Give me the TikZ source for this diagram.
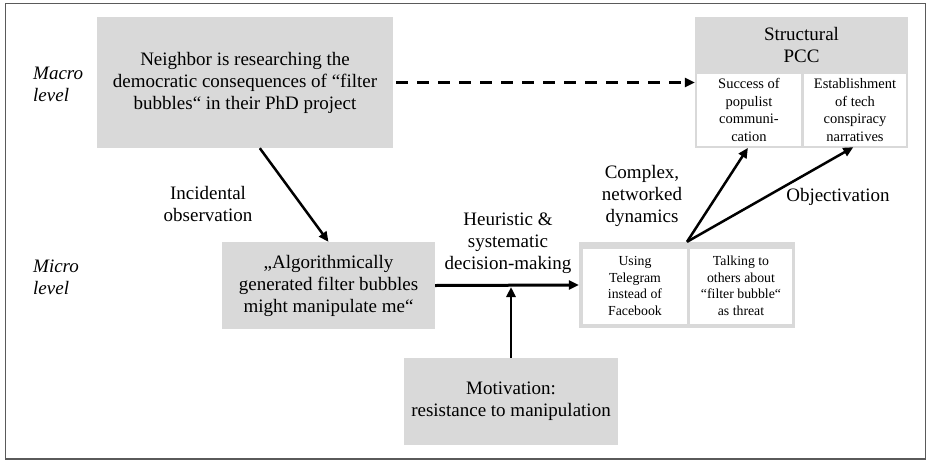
\documentclass[tikz,border=0pt]{standalone}
\usepackage{fontspec}
\setmainfont{Liberation Serif}
\usetikzlibrary{arrows.meta,calc}
\definecolor{boxgray}{HTML}{D9D9D9}
\definecolor{framegray}{HTML}{5A5A5A}

\begin{document}
\begin{tikzpicture}[x=1pt,y=-1pt,
  bigtext/.style={font=\fontsize{19}{22}\selectfont, align=center},
  graybox/.style={fill=boxgray, draw=none, inner sep=0pt, bigtext},
  whitebox/.style={fill=white, draw=none, inner sep=0pt, align=center},
  smallD/.style={whitebox, font=\fontsize{14.5}{17.5}\selectfont},
  smallE/.style={whitebox, font=\fontsize{13.8}{16.5}\selectfont},
  label/.style={bigtext, inner sep=0pt},
  levellabel/.style={font=\fontsize{19}{22}\selectfont\itshape, align=left, inner sep=0pt, anchor=west},
  arr/.style={line width=2.5pt, -{Triangle[length=10pt,width=9pt]}},
  dasharr/.style={line width=3pt, dash pattern=on 12pt off 9pt, -{Triangle[length=10pt,width=9pt]}}
]
\useasboundingbox (0,0) rectangle (932,461);

% outer frame
\draw[framegray, line width=1.5pt] (5.5,3.5) rectangle (925.5,459);

% level labels
\node[levellabel] (macro) at (33,84) {Macro\\level};
\node[levellabel] (micro) at (33,277) {Micro\\level};

% macro-level situation
\node[graybox, minimum width=296pt, minimum height=131pt] (A) at (245,82.5)
  {Neighbor is researching the\\democratic consequences of “filter\\bubbles“ in their PhD project};

% individual perception
\node[graybox, minimum width=213pt, minimum height=87pt] (B) at (328.5,285.5)
  {„Algorithmically\\generated filter bubbles\\might manipulate me“};

% motivation
\node[graybox, minimum width=214pt, minimum height=87pt] (C) at (511,401.5)
  {Motivation:\\resistance to manipulation};

% structural PCC
\node[graybox, minimum width=213pt, minimum height=131pt] (D) at (801.5,82.5) {};
\node[label] (Dh) at (801.5,44.5) {Structural\\PCC};
\node[smallD, minimum width=104pt, minimum height=72pt] (Dl) at (749,110)
  {Success of\\populist\\communi-\\cation};
\node[smallD, minimum width=102pt, minimum height=72pt] (Dr) at (855,110)
  {Establishment\\of tech\\conspiracy\\narratives};

% individual actions
\node[graybox, minimum width=216pt, minimum height=86pt] (E) at (687,285) {};
\node[smallE, minimum width=104pt, minimum height=75pt] (El) at (635,286)
  {Using\\Telegram\\instead of\\Facebook};
\node[smallE, minimum width=102pt, minimum height=75pt] (Er) at (741,286)
  {Talking to\\others about\\“filter bubble“\\as threat};

% connector labels
\node[label] (lInc) at (208,204) {Incidental\\observation};
\node[label] (lHeu) at (508,243) {Heuristic \&\\systematic\\decision-making};
\node[label] (lCom) at (642,196) {Complex,\\networked\\dynamics};
\node[label] (lObj) at (838,197) {Objectivation};

% connectors
\coordinate (Astart) at ($(A.south west)+(163,0)$);
\draw[arr] (Astart) -- (B.north);
\draw[dasharr] ([xshift=3pt]A.east) -- (D.west);
\draw[arr, line width=3pt] (B.east) -- (E.west);
\coordinate (Cend) at ($(C.north |- B.east)+(0,1.5)$);
\draw[arr] (C.north) -- (Cend);
\draw[arr, shorten >=2pt] (E.north) -- (Dl.south);
\draw[arr, shorten >=2pt] (E.north) -- (Dr.south);
\end{tikzpicture}
\end{document}
